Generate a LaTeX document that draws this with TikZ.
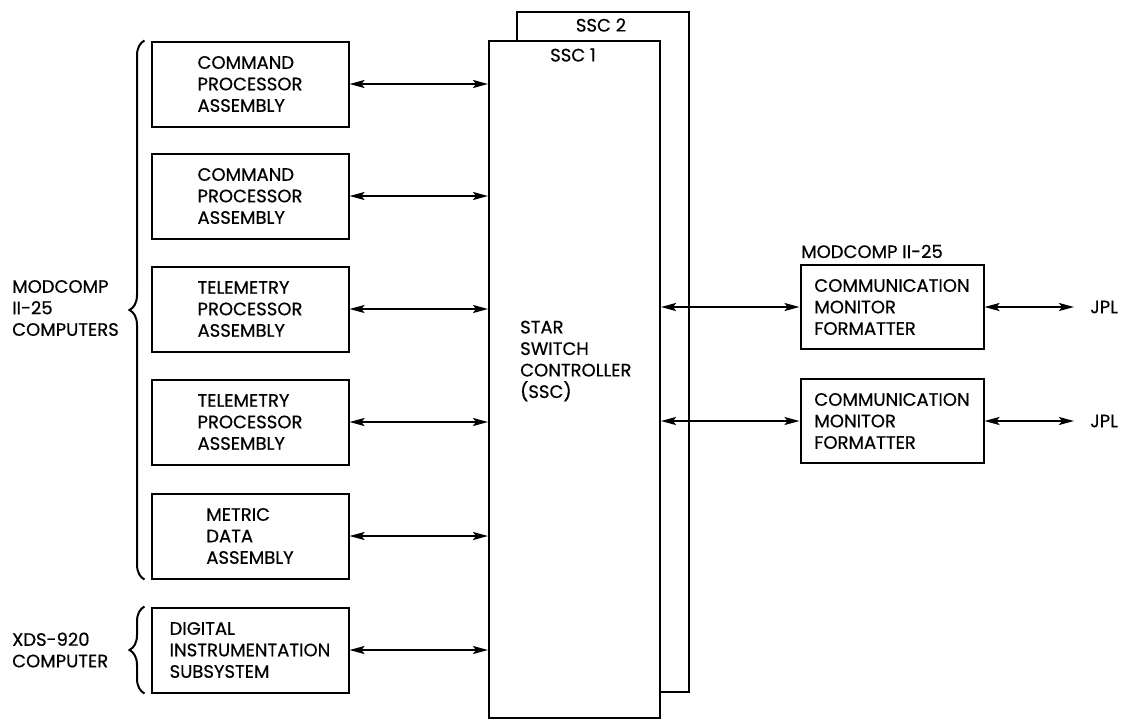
\documentclass[tikz,border=0pt]{standalone}
\usepackage{fontspec}
\setmainfont{Poppins}[FakeBold=0.5]
\usetikzlibrary{arrows.meta,decorations.pathreplacing}

\tikzset{
  bloque/.style={draw, line width=2pt, fill=white, minimum width=197pt,
    minimum height=85pt, align=left, inner sep=0pt},
  enlace/.style={line width=2pt,
    {Stealth[length=15pt,width=8pt,inset=3pt]}-{Stealth[length=15pt,width=8pt,inset=3pt]}},
  llave/.style={line width=2pt, decorate, decoration={brace, amplitude=15pt}},
  etiqueta/.style={align=left, inner sep=0pt},
}

\begin{document}
\begin{tikzpicture}[x=1pt, y=-1pt, font=\fontsize{18}{21.5}\selectfont]
\useasboundingbox (0,0) rectangle (1143,718);

% Controladores
\node[draw, line width=2pt, fill=white, minimum width=172pt,
  minimum height=680pt, anchor=north west] (ssc2) at (516,11) {};
\node[draw, line width=2pt, fill=white, minimum width=171pt,
  minimum height=677pt, anchor=north west] (ssc1) at (488,40) {};
\node (tssc2) at (601,25) {SSC 2};
\node (tssc1) at (573,55) {SSC 1};
\node[etiqueta, anchor=west] (star) at (520,361)
  {STAR\\SWITCH\\CONTROLLER\\(SSC)};

% Bloques de la izquierda
\node[bloque] (cpa1) at (250,84) {COMMAND\\PROCESSOR\\ASSEMBLY};
\node[bloque] (cpa2) at (250,196) {COMMAND\\PROCESSOR\\ASSEMBLY};
\node[bloque] (tpa1) at (250,309) {TELEMETRY\\PROCESSOR\\ASSEMBLY};
\node[bloque] (tpa2) at (250,422) {TELEMETRY\\PROCESSOR\\ASSEMBLY};
\node[bloque] (mda) at (250,536) {METRIC\\DATA\\ASSEMBLY};
\node[bloque] (dis) at (250,650) {DIGITAL\\INSTRUMENTATION\\SUBSYSTEM};

% Bloques de la derecha
\node[bloque, minimum width=183pt, minimum height=84pt] (cmf1) at (892,307)
  {COMMUNICATION\\MONITOR\\FORMATTER};
\node[bloque, minimum width=183pt, minimum height=84pt] (cmf2) at (892,421)
  {COMMUNICATION\\MONITOR\\FORMATTER};
\node[etiqueta, anchor=base west] (mc) at (801,258) {MODCOMP II-25};
\node[etiqueta, anchor=west] (jpl1) at (1090,307) {JPL};
\node[etiqueta, anchor=west] (jpl2) at (1090,421) {JPL};

% Llaves
\draw[llave] ([xshift=-6pt]mda.south west) -- ([xshift=-6pt]cpa1.north west);
\draw[llave] ([xshift=-6pt]dis.south west) -- ([xshift=-6pt]dis.north west);
\node[etiqueta, anchor=west] (modcomp) at (12,308) {MODCOMP\\II-25\\COMPUTERS};
\node[etiqueta, anchor=west] (xds) at (12,650) {XDS-920\\COMPUTER};

% Flechas
\foreach \b in {cpa1,cpa2,tpa1,tpa2,mda,dis}
  \draw[enlace] (\b.east) -- (\b.east -| ssc1.west);
\foreach \b in {cmf1,cmf2}
  \draw[enlace] (\b.west -| ssc1.east) -- (\b.west);
\draw[enlace, shorten >=16pt] (cmf1.east) -- (jpl1.west);
\draw[enlace, shorten >=16pt] (cmf2.east) -- (jpl2.west);
\end{tikzpicture}
\end{document}
